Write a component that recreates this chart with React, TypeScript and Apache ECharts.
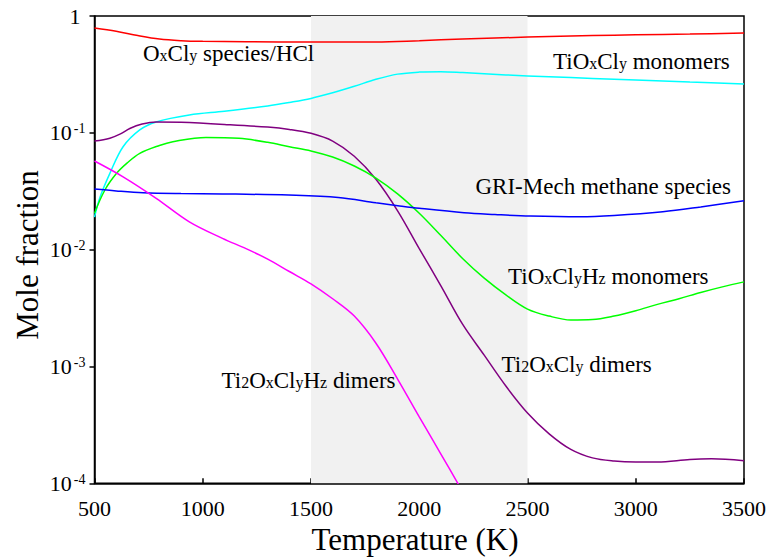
import React, { useEffect, useRef } from "react";
import * as echarts from "echarts";

// Temperature (K), mole fraction pairs for each species group
const oxclyHcl: [number, number][] = [
  [500, 0.79], [600, 0.74], [700, 0.68], [800, 0.635], [900, 0.615], [1000, 0.607],
  [1200, 0.602], [1500, 0.6], [1800, 0.6], [2000, 0.615], [2200, 0.635], [2500, 0.66],
  [2800, 0.68], [3000, 0.69], [3250, 0.7], [3500, 0.715],
];
const tioxclyMono: [number, number][] = [
  [500, 0.019], [525, 0.028], [571, 0.045], [632, 0.076], [709, 0.106], [785, 0.124],
  [938, 0.142], [1100, 0.153], [1300, 0.17], [1400, 0.182], [1500, 0.197], [1600, 0.22],
  [1700, 0.25], [1800, 0.287], [1900, 0.318], [2000, 0.331], [2100, 0.334], [2200, 0.328],
  [2400, 0.313], [2600, 0.302], [2800, 0.292], [3000, 0.283], [3250, 0.272], [3500, 0.262],
];
const ti2oxclyDimers: [number, number][] = [
  [500, 0.085], [571, 0.09], [620, 0.098], [663, 0.109], [720, 0.119], [785, 0.124],
  [900, 0.123], [1100, 0.118], [1300, 0.112], [1400, 0.107], [1500, 0.099], [1600, 0.085],
  [1700, 0.063], [1800, 0.04], [1900, 0.0215], [2000, 0.0102], [2100, 0.0049],
  [2200, 0.0023], [2300, 0.00125], [2400, 0.00068], [2500, 0.0004], [2600, 0.000265],
  [2700, 0.000195], [2800, 0.000165], [2900, 0.000155], [3000, 0.000152], [3100, 0.000152],
  [3250, 0.00016], [3350, 0.000162], [3500, 0.000156],
];
const tioxclyhzMono: [number, number][] = [
  [500, 0.0205], [548, 0.0324], [602, 0.045], [650, 0.055], [709, 0.0667], [800, 0.078],
  [862, 0.084], [1015, 0.0914], [1167, 0.0897], [1300, 0.083], [1400, 0.076], [1500, 0.07],
  [1600, 0.062], [1700, 0.052], [1800, 0.041], [1900, 0.03], [2000, 0.0205], [2100, 0.0132],
  [2200, 0.0084], [2300, 0.0057], [2400, 0.0041], [2500, 0.0031], [2600, 0.0027],
  [2700, 0.0025], [2800, 0.00252], [2900, 0.0027], [3000, 0.003], [3100, 0.0034],
  [3200, 0.0038], [3300, 0.0043], [3400, 0.0048], [3500, 0.0053],
];
const griMech: [number, number][] = [
  [500, 0.033], [600, 0.0318], [724, 0.0307], [900, 0.0302], [1091, 0.03], [1397, 0.0293],
  [1626, 0.028], [1800, 0.0252], [1901, 0.0238], [2000, 0.0226], [2207, 0.0207],
  [2350, 0.02], [2513, 0.0194], [2742, 0.0191], [2900, 0.0196], [3125, 0.0211],
  [3300, 0.0232], [3500, 0.0262],
];
const ti2oxclyhzDimers: [number, number][] = [
  [500, 0.0574], [632, 0.042], [785, 0.0275], [938, 0.0173], [1091, 0.0125], [1200, 0.0102],
  [1300, 0.0083], [1400, 0.0065], [1500, 0.0051], [1600, 0.0038], [1700, 0.0027],
  [1800, 0.00158], [1900, 0.00078], [2000, 0.00037], [2100, 0.000178], [2200, 0.000085],
];

const shadedRange = [1500, 2500];
const xTicks = { min: 500, max: 3500, interval: 500 };
const yRange = { min: 1e-4, max: 1 };

// label segments: [text, style]
const labelOxcly: [string, string][] = [["O", "n"], ["x", "sub"], ["Cl", "n"], ["y", "sub"], [" species/HCl", "n"]];
const labelTioxcly: [string, string][] = [["TiO", "n"], ["x", "sub"], ["Cl", "n"], ["y", "sub"], [" monomers", "n"]];
const labelGri: [string, string][] = [["GRI-Mech methane species", "n"]];
const labelTioxclyhz: [string, string][] = [["TiO", "n"], ["x", "sub"], ["Cl", "n"], ["y", "sub"], ["H", "n"], ["z", "sub"], [" monomers", "n"]];
const labelTi2hz: [string, string][] = [["Ti", "n"], ["2", "sub"], ["O", "n"], ["x", "sub"], ["Cl", "n"], ["y", "sub"], ["H", "n"], ["z", "sub"], [" dimers", "n"]];
const labelTi2: [string, string][] = [["Ti", "n"], ["2", "sub"], ["O", "n"], ["x", "sub"], ["Cl", "n"], ["y", "sub"], [" dimers", "n"]];

const FAMILY = "Liberation Serif";
const FONT = "'Liberation Serif', serif";

function richText(segs: [string, string][]) {
  return segs.map(([t, s]) => `{${s}|${t}}`).join("");
}
const labelRich = {
  n: { font: `23px ${FONT}`, fontSize: 23, fontFamily: FAMILY, lineHeight: 28, fill: "#000" },
  sub: { font: `16px ${FONT}`, fontSize: 16, fontFamily: FAMILY, lineHeight: 16, padding: [5, 0, 0, 0], fill: "#000" },
};

function makeLabel(segs: [string, string][], x: number, y: number) {
  return {
    type: "text",
    x,
    y,
    z: 100,
    style: {
      text: richText(segs),
      rich: labelRich,
      font: `23px ${FONT}`,
      fill: "#000",
      align: "left",
      verticalAlign: "middle",
    },
  };
}

export default function App() {
  const ref = useRef<HTMLDivElement>(null);
  useEffect(() => {
    document.body.style.margin = "0";
    if (!ref.current) return;
    const chart = echarts.init(ref.current, null, { renderer: "svg" });
    const lineSeries = (name: string, data: [number, number][], color: string) => ({
      name,
      type: "line",
      data,
      smooth: 0.35,
      showSymbol: false,
      symbol: "none",
      z: 3,
      lineStyle: { color, width: 1.5 },
    });
    chart.setOption({
      animation: false,
      backgroundColor: "#fff",
      textStyle: { fontFamily: FAMILY },
      grid: {
        left: 94.5,
        right: 20.7,
        top: 16,
        bottom: 75.7,
        show: true,
        borderColor: "#000",
        borderWidth: 1.5,
        backgroundColor: "transparent",
      },
      xAxis: {
        type: "value",
        min: xTicks.min,
        max: xTicks.max,
        interval: xTicks.interval,
        axisLine: { show: true, lineStyle: { color: "#000", width: 1.5 } },
        axisTick: { show: true, inside: true, length: 5, lineStyle: { color: "#000", width: 1.5 } },
        splitLine: { show: false },
        axisLabel: {
          color: "#000",
          fontFamily: FAMILY,
          fontSize: 22,
          margin: 14,
          formatter: (v: number) => String(v),
        },
      },
      yAxis: {
        type: "log",
        logBase: 10,
        min: yRange.min,
        max: yRange.max,
        axisLine: { show: true, lineStyle: { color: "#000", width: 1.5 } },
        axisTick: { show: true, inside: false, length: 5, lineStyle: { color: "#000", width: 1.5 } },
        minorTick: { show: false },
        splitLine: { show: false },
        axisLabel: {
          margin: 9,
          color: "#000",
          fontFamily: FAMILY,
          fontSize: 22,
          formatter: (v: number) => {
            const e = Math.round(Math.log10(v));
            if (e === 0) return "{one|1}";
            return `{b|10}{sup|${e}}`;
          },
          rich: {
            one: { fontSize: 22, fontFamily: FAMILY, color: "#000", padding: [0, 5, 0, 0] },
            b: { fontSize: 22, fontFamily: FAMILY, color: "#000", lineHeight: 24 },
            sup: { fontSize: 14, fontFamily: FAMILY, color: "#000", lineHeight: 14, padding: [0, 0, 8, 2] },
          },
        },
      },
      series: [
        {
          type: "line",
          data: [],
          z: 1,
          markArea: {
            silent: true,
            itemStyle: { color: "#f1f1f1" },
            data: [[{ xAxis: shadedRange[0] }, { xAxis: shadedRange[1] }]],
          },
        },
        lineSeries("OxCly species/HCl", oxclyHcl, "#ff0000"),
        lineSeries("TiOxCly monomers", tioxclyMono, "#00ffff"),
        lineSeries("Ti2OxCly dimers", ti2oxclyDimers, "#800080"),
        lineSeries("TiOxClyHz monomers", tioxclyhzMono, "#00ff00"),
        lineSeries("GRI-Mech methane species", griMech, "#0000ff"),
        lineSeries("Ti2OxClyHz dimers", ti2oxclyhzDimers, "#ff00ff"),
      ],
      graphic: [
        makeLabel(labelOxcly, 143, 53),
        makeLabel(labelTioxcly, 553, 61),
        makeLabel(labelGri, 475.5, 186),
        makeLabel(labelTioxclyhz, 508, 276),
        makeLabel(labelTi2hz, 221.5, 380),
        makeLabel(labelTi2, 501.5, 364),
        {
          type: "text",
          x: 415,
          y: 539,
          style: {
            text: "Temperature (K)",
            font: `31px ${FONT}`,
            fill: "#000",
            align: "center",
            verticalAlign: "middle",
          },
        },
        {
          type: "text",
          x: 27,
          y: 255,
          rotation: Math.PI / 2,
          style: {
            text: "Mole fraction",
            font: `31px ${FONT}`,
            fill: "#000",
            align: "center",
            verticalAlign: "middle",
          },
        },
      ],
    });
    return () => chart.dispose();
  }, []);
  return <div ref={ref} style={{ width: 769, height: 559 }} />;
}
